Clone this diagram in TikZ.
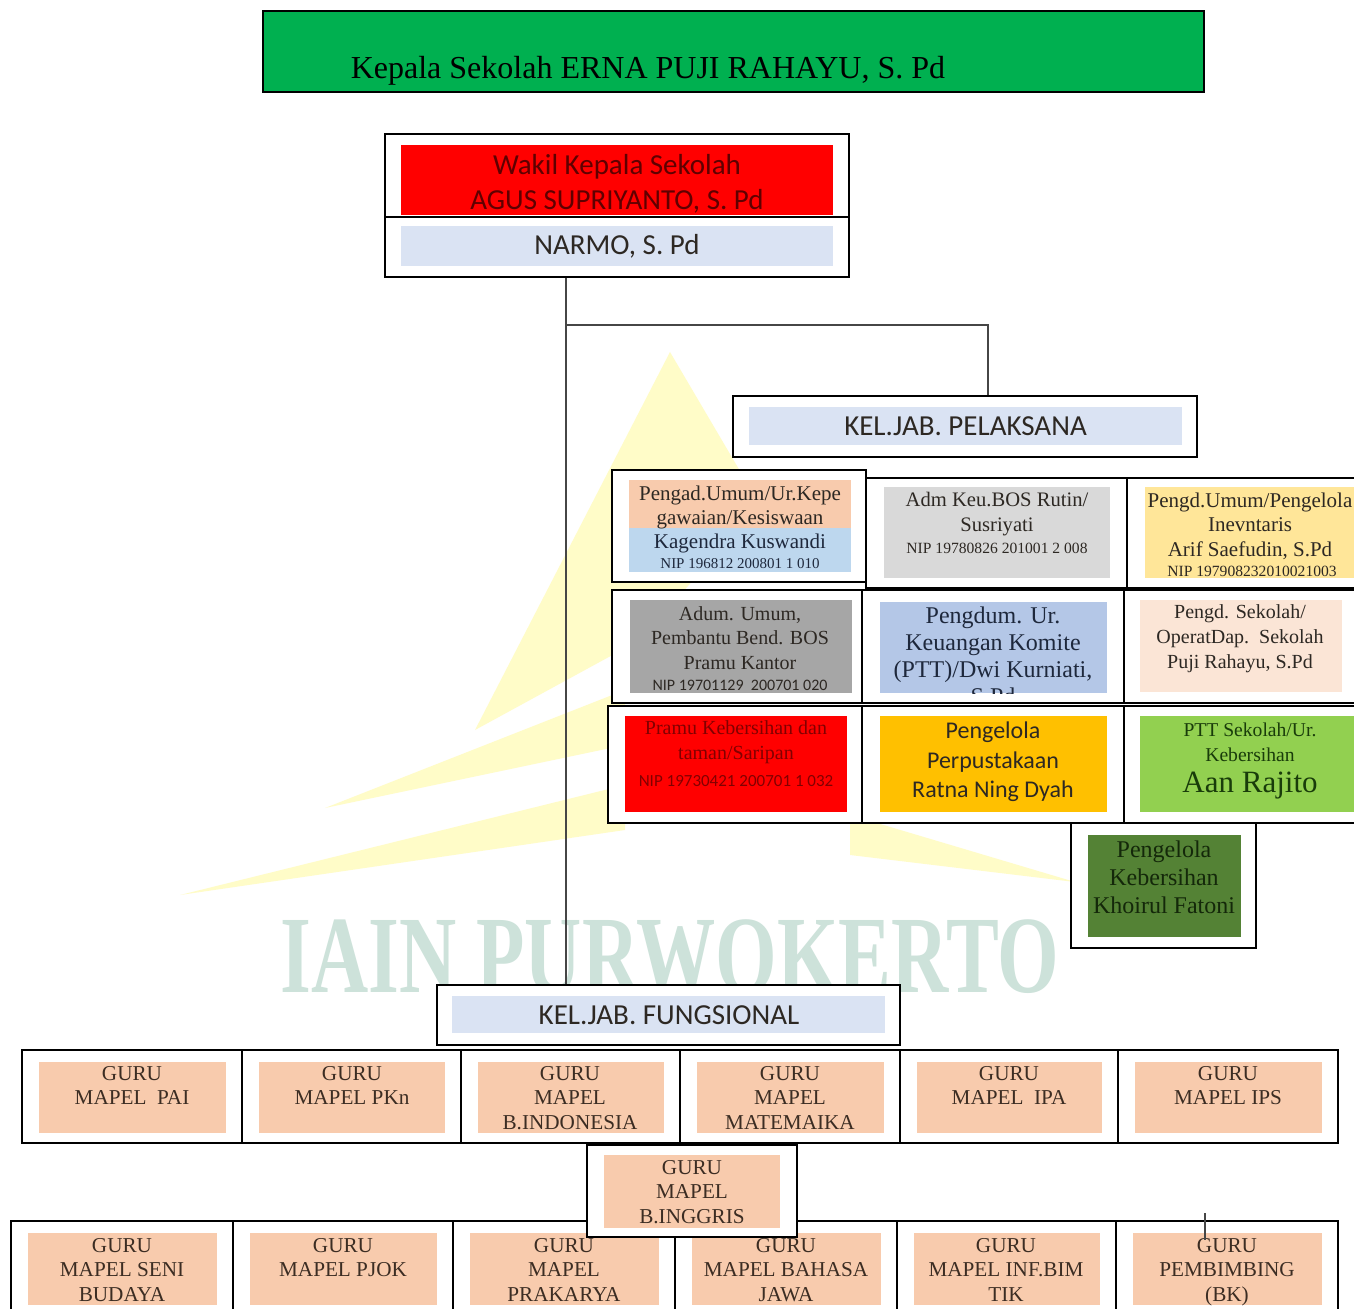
\documentclass[tikz,border=0pt]{standalone}
\usepackage{fontspec}
\usepackage{graphicx}
\setmainfont{Liberation Serif}
\newfontfamily\calfont{Carlito}
\usetikzlibrary{fit}
\definecolor{titlegreen}{RGB}{0,176,80}
\definecolor{hdrfill}{RGB}{218,227,243}
\definecolor{peach}{RGB}{248,203,173}
\definecolor{lblue}{RGB}{189,215,238}
\definecolor{lgray}{RGB}{217,217,217}
\definecolor{pyellow}{RGB}{255,230,153}
\definecolor{mgray}{RGB}{166,166,166}
\definecolor{mblue}{RGB}{180,199,231}
\definecolor{ppeach}{RGB}{251,229,214}
\definecolor{amber}{RGB}{255,192,0}
\definecolor{lgreen}{RGB}{146,208,80}
\definecolor{dgreen}{RGB}{84,130,53}
\definecolor{dred}{RGB}{95,0,0}
\definecolor{mred}{RGB}{130,0,0}
\definecolor{txtd}{RGB}{45,40,35}
\definecolor{txtb}{RGB}{30,40,60}
\definecolor{txtg}{RGB}{25,60,10}
\definecolor{txtdg}{RGB}{20,40,10}
\definecolor{gurutxt}{RGB}{60,45,35}
\definecolor{wmy}{RGB}{255,252,200}
\definecolor{wmt}{RGB}{205,226,218}
\definecolor{connc}{RGB}{70,70,70}
\newcommand\fsz[2]{\fontsize{#1}{#2}\selectfont}
\newcommand\mkbox[3]{\node[#1, fit={#3}] (#2) {};}
\tikzset{
  box/.style={draw=black, line width=1pt, fill=white, inner sep=0pt},
  inbox/.style={draw=none, inner sep=0pt, fill=#1},
  lbl/.style={inner sep=0pt, align=center},
  conn/.style={draw=connc, line width=1pt},
  gurut/.style={lbl, anchor=north, text=gurutxt, font=\fsz{10.6}{12.25}},
}
\begin{document}
\begin{tikzpicture}[x=0.5pt,y=-0.5pt]
\path[use as bounding box, fill=white] (0,0) rectangle (1354,1309);
% watermark
\fill[wmy] (670,352) -- (760,505) -- (640,640) -- (475,730) -- cycle;
\fill[wmy] (325,808) -- (625,690) -- (625,745) -- cycle;
\fill[wmy] (180,895) -- (625,785) -- (625,830) -- cycle;
\fill[wmy] (850,815) -- (1075,882) -- (850,855) -- cycle;
\node[lbl, text=wmt, font=\fsz{55}{58}\bfseries] (wm) at (670,957) {\scalebox{0.72}[1]{IAIN PURWOKERTO}};

% title
\mkbox{box, fill=titlegreen}{title}{(263,11)(1204,92)}
\node[lbl, font=\fsz{16}{18}] (titlet) at (648,71) {Kepala Sekolah ERNA PUJI RAHAYU, S. Pd};

% wakil
\mkbox{box}{waka}{(385,134)(849,217)}
\mkbox{box}{wakb}{(385,217)(849,277)}
\mkbox{inbox=red}{wakai}{(401,145)(833,215)}
\mkbox{inbox=hdrfill}{wakbi}{(401,226)(833,266)}
\node[lbl, text=dred, font=\calfont\fsz{14.5}{17.5}] (wakat) at (617,184) {Wakil Kepala Sekolah\\AGUS SUPRIYANTO, S. Pd};
\node[lbl, text=txtd, font=\calfont\fsz{14.5}{17}] (wakbt) at (wakbi.center) {NARMO, S. Pd};

% pelaksana header
\mkbox{box}{pel}{(733,396)(1197,457)}
\mkbox{inbox=hdrfill}{peli}{(749,407)(1182,445)}
\node[lbl, text=txtd, font=\calfont\fsz{14.5}{16}] (pelt) at (peli.center) {KEL.JAB. PELAKSANA};

% fungsional header
\mkbox{box}{fung}{(437,985)(900,1045)}
\mkbox{inbox=hdrfill}{fungi}{(452,996)(885,1033)}
\node[lbl, text=txtd, font=\calfont\fsz{14.5}{16}] (fungt) at (669,1015) {KEL.JAB. FUNGSIONAL};

% connectors
\coordinate (j1) at (566,325);
\coordinate (j2) at (988,325);
\draw[conn] (wakb.south -| j1) -- (fung.north -| j1);
\draw[conn] (j1) -- (j2) -- (pel.north -| j2);

% row 1
\mkbox{box}{c12}{(866,478)(1127,588)}
\mkbox{box}{c13}{(1127,478)(1380,588)}
\mkbox{box}{c11}{(612,470)(866,582)}
\mkbox{inbox=peach}{c11a}{(629,480)(851,528)}
\mkbox{inbox=lblue}{c11b}{(629,528)(851,572)}
\mkbox{inbox=lgray}{c12i}{(884,487)(1110,578)}
\mkbox{inbox=pyellow}{c13i}{(1145,487)(1380,578)}
\node[lbl, text=txtd, font=\fsz{10.5}{12}] (c11t1) at (740,507) {Pengad.Umum/Ur.Kepe\\gawaian/Kesiswaan};
\node[lbl, text=txtb, font=\fsz{10.5}{12}] (c11t2) at (740,543) {Kagendra Kuswandi};
\node[lbl, text=txtb, font=\fsz{7.5}{9}] (c11t3) at (740,564) {NIP 196812 200801 1 010};
\node[lbl, text=txtd, font=\fsz{10.3}{12.5}] (c12t1) at (997,514) {Adm Keu.BOS Rutin/\\Susriyati};
\node[lbl, text=txtd, font=\fsz{7.8}{9}] (c12t2) at (997,548) {NIP 19780826 201001 2 008};
\node[lbl, text=txtd, font=\fsz{10.5}{12.25}] (c13t1) at (1250,526) {Pengd.Umum/Pengelola\\Inevntaris\\Arif Saefudin, S.Pd};
\node[lbl, text=txtd, font=\fsz{7.8}{9}] (c13t2) at (1252,571) {NIP 197908232010021003};

% row 2
\mkbox{box}{c21}{(612,590)(862,703)}
\mkbox{box}{c22}{(862,590)(1124,703)}
\mkbox{box}{c23}{(1124,590)(1380,703)}
\mkbox{inbox=mgray}{c21i}{(630,600)(852,693)}
\mkbox{inbox=mblue}{c22i}{(880,602)(1107,693)}
\mkbox{inbox=ppeach}{c23i}{(1140,600)(1342,692)}
\node[lbl, text=txtd, font=\fsz{10}{12.25}] (c21t1) at (740,638) {Adum. Umum,\\Pembantu Bend. BOS\\Pramu Kantor};
\node[lbl, text=txtd, font=\calfont\fsz{8}{9}] (c21t2) at (740,685) {NIP 19701129\ \ 200701 020};
\begin{scope}
\clip (c22i.south west) rectangle (c22i.north east);
\node[lbl, text=txtb, font=\fsz{12}{13.5}] (c22t) at (993,656) {Pengdum. Ur.\\Keuangan Komite\\(PTT)/Dwi Kurniati,\\S.Pd};
\end{scope}
\node[lbl, text=txtd, font=\fsz{10}{12.5}] (c23t) at (1240,639) {Pengd. Sekolah/\\OperatDap.\ \ Sekolah\\Puji Rahayu, S.Pd};

% row 3
\mkbox{box}{c31}{(608,706)(862,823)}
\mkbox{box}{c32}{(862,706)(1124,823)}
\mkbox{box}{c33}{(1124,706)(1380,823)}
\mkbox{inbox=red}{c31i}{(625,716)(847,812)}
\mkbox{inbox=amber}{c32i}{(880,716)(1107,812)}
\mkbox{inbox=lgreen}{c33i}{(1140,716)(1380,812)}
\node[lbl, text=mred, font=\fsz{10}{12.5}] (c31t1) at (736,742) {Pramu Kebersihan dan\\taman/Saripan};
\node[lbl, text=mred, font=\calfont\fsz{8.5}{10}] (c31t2) at (736,781) {NIP 19730421 200701 1 032};
\node[lbl, text=txtd, font=\calfont\fsz{12}{14.75}] (c32t) at (993,762) {Pengelola\\Perpustakaan\\Ratna Ning Dyah};
\node[lbl, text=txtg, font=\fsz{9.8}{12.5}] (c33t1) at (1250,742) {PTT Sekolah/Ur.\\Kebersihan};
\node[lbl, text=txtg, font=\fsz{15.5}{17}] (c33t2) at (1250,786) {Aan Rajito};

% row 4
\mkbox{box}{c4}{(1071,823)(1256,948)}
\mkbox{inbox=dgreen}{c4i}{(1088,835)(1241,937)}
\node[lbl, text=txtdg, font=\fsz{12}{14}] (c4t) at (1164,877) {Pengelola\\Kebersihan\\Khoirul Fatoni};

% guru row 1
\mkbox{box}{g1}{(22,1050)(242,1143)}
\mkbox{box}{g2}{(242,1050)(461,1143)}
\mkbox{box}{g3}{(461,1050)(680,1143)}
\mkbox{box}{g4}{(680,1050)(900,1143)}
\mkbox{box}{g5}{(900,1050)(1118,1143)}
\mkbox{box}{g6}{(1118,1050)(1338,1143)}
\mkbox{inbox=peach}{g1i}{(39,1062)(226,1133)}
\mkbox{inbox=peach}{g2i}{(259,1062)(445,1133)}
\mkbox{inbox=peach}{g3i}{(478,1062)(664,1133)}
\mkbox{inbox=peach}{g4i}{(697,1062)(884,1133)}
\mkbox{inbox=peach}{g5i}{(917,1062)(1102,1133)}
\mkbox{inbox=peach}{g6i}{(1135,1062)(1322,1133)}
\node[gurut] (g1t) at (132,1066) {GURU\\MAPEL\ \ PAI};
\node[gurut] (g2t) at (352,1066) {GURU\\MAPEL PKn};
\node[gurut] (g3t) at (570,1066) {GURU\\MAPEL\\B.INDONESIA};
\node[gurut] (g4t) at (790,1066) {GURU\\MAPEL\\MATEMAIKA};
\node[gurut] (g5t) at (1009,1066) {GURU\\MAPEL\ \ IPA};
\node[gurut] (g6t) at (1228,1066) {GURU\\MAPEL IPS};

% guru row 3
\mkbox{box}{h1}{(11,1221)(233,1340)}
\mkbox{box}{h2}{(233,1221)(453,1340)}
\mkbox{box}{h3}{(453,1221)(675,1340)}
\mkbox{box}{h4}{(675,1221)(897,1340)}
\mkbox{box}{h5}{(897,1221)(1116,1340)}
\mkbox{box}{h6}{(1116,1221)(1338,1340)}
\mkbox{inbox=peach}{h1i}{(28,1233)(217,1305)}
\mkbox{inbox=peach}{h2i}{(250,1233)(437,1305)}
\mkbox{inbox=peach}{h3i}{(470,1233)(659,1305)}
\mkbox{inbox=peach}{h4i}{(692,1233)(881,1305)}
\mkbox{inbox=peach}{h5i}{(914,1233)(1100,1305)}
\mkbox{inbox=peach}{h6i}{(1133,1233)(1322,1305)}
\node[gurut] (h1t) at (122,1238) {GURU\\MAPEL SENI\\BUDAYA};
\node[gurut] (h2t) at (343,1238) {GURU\\MAPEL PJOK};
\node[gurut] (h3t) at (564,1238) {GURU\\MAPEL\\PRAKARYA};
\node[gurut] (h4t) at (786,1238) {GURU\\MAPEL BAHASA\\JAWA};
\node[gurut] (h5t) at (1006,1238) {GURU\\MAPEL INF.BIM\\TIK};
\node[gurut] (h6t) at (1227,1238) {GURU\\PEMBIMBING\\(BK)};

% guru row 2 (B.INGGRIS) on top
\mkbox{box}{g7}{(587,1145)(797,1237)}
\mkbox{inbox=peach}{g7i}{(604,1155)(780,1228)}
\node[gurut] (g7t) at (692,1160) {GURU\\MAPEL\\B.INGGRIS};

% stray short line
\coordinate (s1) at (1205,1213);
\coordinate (s2) at (1205,1240);
\draw[conn] (s1) -- (s2);
\end{tikzpicture}
\end{document}
